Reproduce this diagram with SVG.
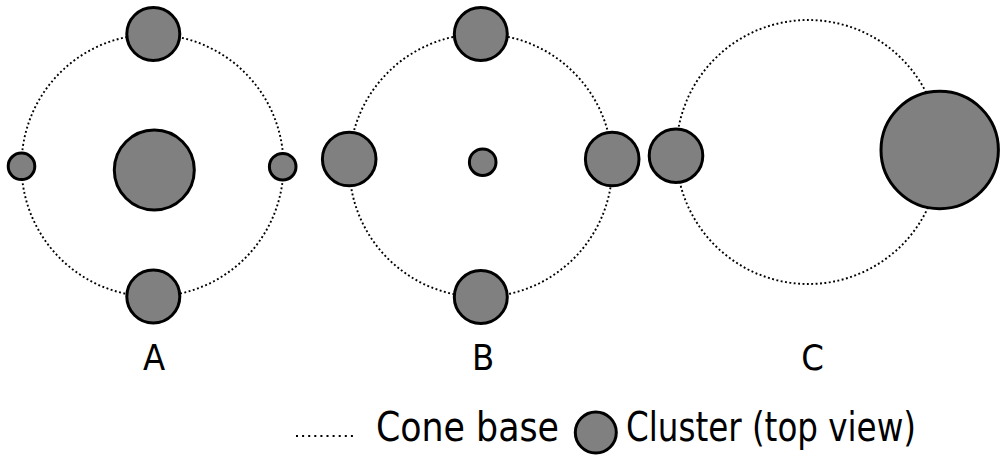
<svg xmlns="http://www.w3.org/2000/svg" width="1008" height="462" viewBox="0 0 1008 462">
<style>
.cone{fill:none;stroke:#000;stroke-width:1.9;stroke-dasharray:1.9 2.5}
.cl{fill:#808080;stroke:#000;stroke-width:3}
.t{font-family:"DejaVu Sans Condensed","DejaVu Sans",sans-serif;font-size:36px;fill:#000}
.lg{font-family:"DejaVu Sans Condensed","DejaVu Sans",sans-serif;font-size:40px;fill:#000}
.dl{fill:none;stroke:#000;stroke-width:2;stroke-dasharray:2 4.1}
</style>
<rect width="1008" height="462" fill="#fff"/>
<g id="cones">
<circle class="cone" cx="152.5" cy="165.5" r="131"/>
<circle class="cone" cx="480.8" cy="165.5" r="131.5"/>
<circle class="cone" cx="808.3" cy="152" r="132"/>
</g>
<g id="groupA">
<circle class="cl" cx="153.3" cy="34" r="26.5"/>
<circle class="cl" cx="153.3" cy="296.5" r="26.5"/>
<circle class="cl" cx="154.3" cy="170" r="40"/>
<circle class="cl" cx="21.5" cy="166.3" r="13.3"/>
<circle class="cl" cx="282.7" cy="166.7" r="13.3"/>
<text class="t" x="154" y="370" text-anchor="middle">A</text>
</g>
<g id="groupB">
<circle class="cl" cx="480.8" cy="34" r="26.5"/>
<circle class="cl" cx="480.8" cy="297" r="26.5"/>
<circle class="cl" cx="349.2" cy="159" r="26.8"/>
<circle class="cl" cx="612.2" cy="159" r="26.8"/>
<circle class="cl" cx="482.7" cy="162.2" r="13.3"/>
<text class="t" x="483" y="370" text-anchor="middle">B</text>
</g>
<g id="groupC">
<circle class="cl" cx="676" cy="155.7" r="26.8"/>
<circle class="cl" cx="939.7" cy="150" r="58.7"/>
<text class="t" x="812.5" y="370" text-anchor="middle">C</text>
</g>
<g id="legend">
<line class="dl" x1="296" y1="436" x2="354" y2="436"/>
<text class="lg" x="376" y="441" textLength="183" lengthAdjust="spacingAndGlyphs">Cone base</text>
<circle class="cl" cx="595.8" cy="432.5" r="20.5"/>
<text class="lg" x="626" y="441" textLength="290" lengthAdjust="spacingAndGlyphs">Cluster (top view)</text>
</g>
</svg>
